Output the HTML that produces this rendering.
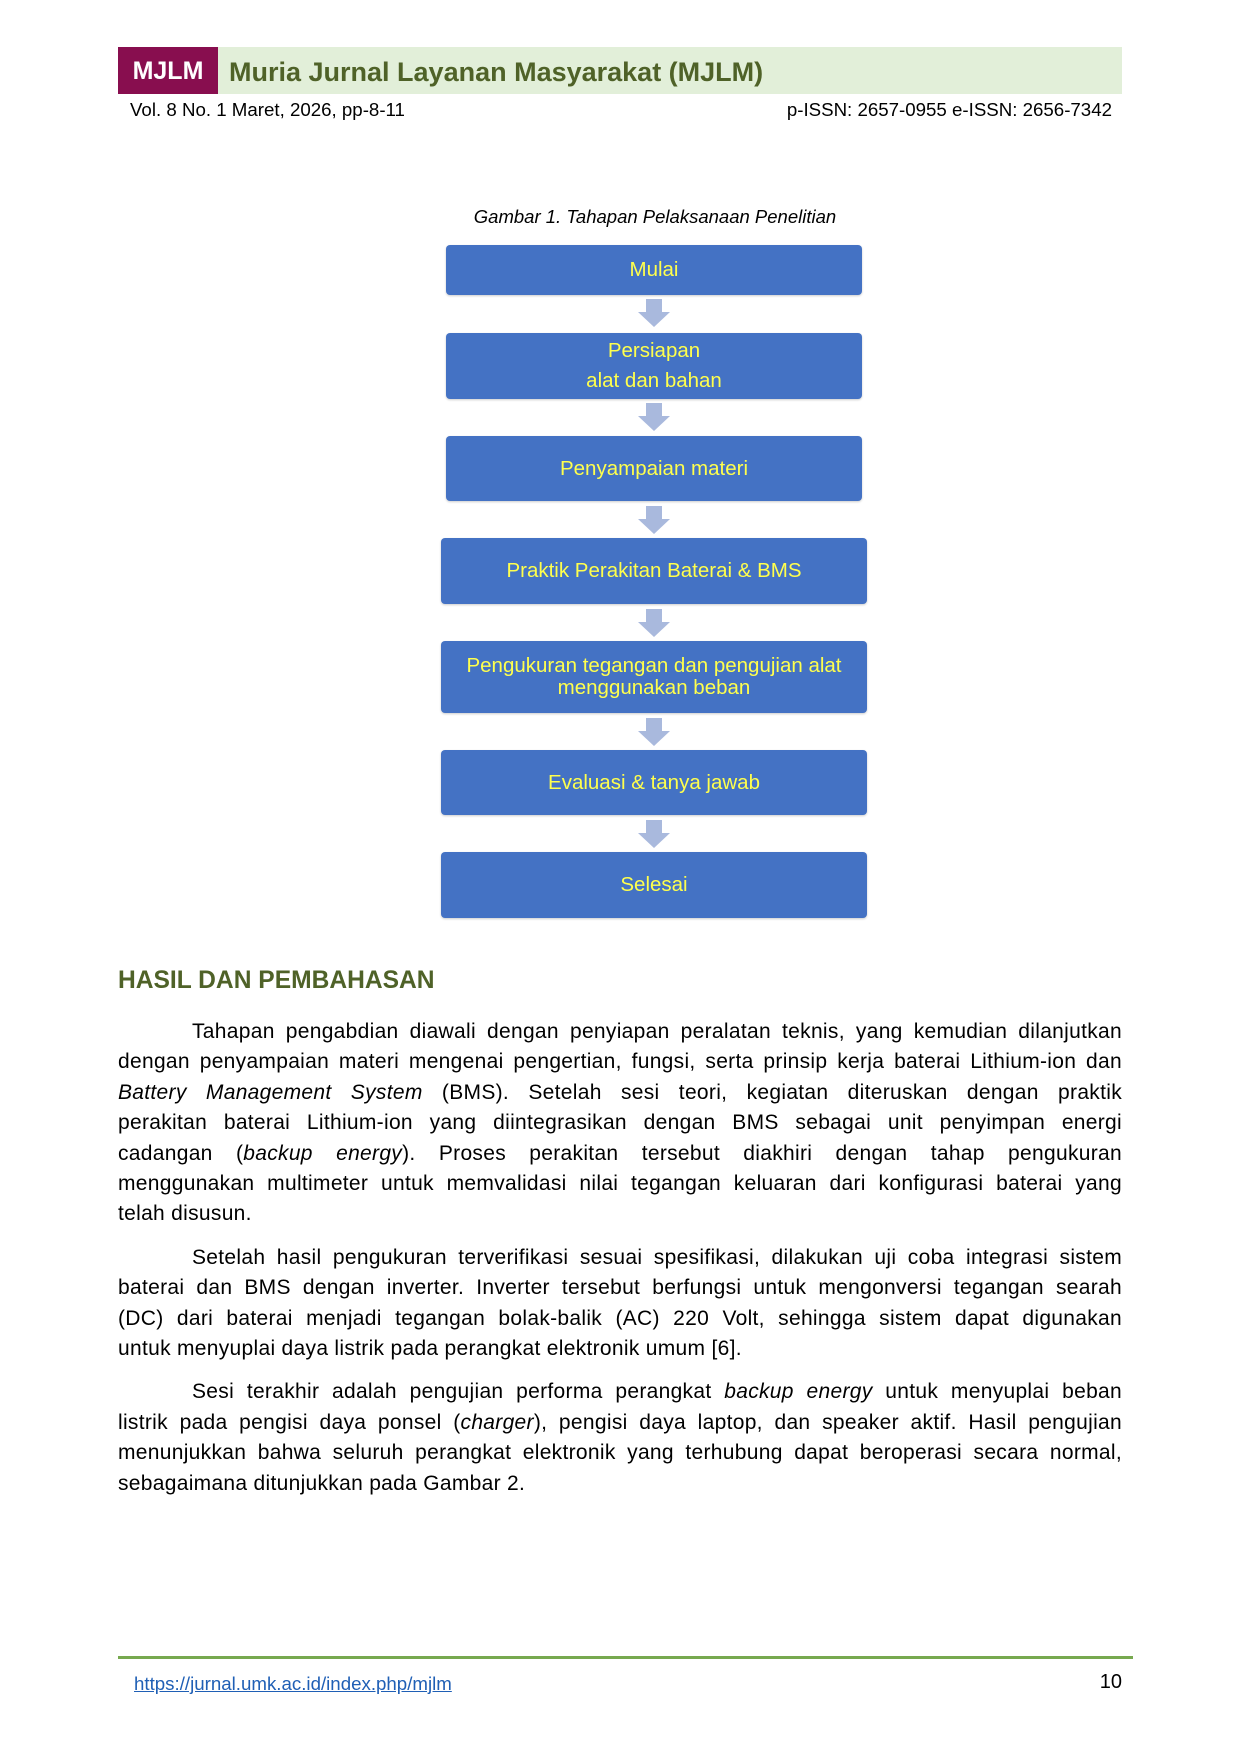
<!DOCTYPE html>
<html><head><meta charset="utf-8"><style>
*{margin:0;padding:0;box-sizing:border-box}
body{width:1240px;height:1754px;background:#fff;position:relative;font-family:"Liberation Sans",Arial,sans-serif;color:#000;overflow:hidden}
.abs{position:absolute}
.hdr{left:118px;top:47px;width:1004px;height:47px;background:#e2efd9}
.logo{left:118px;top:47px;width:100px;height:47px;background:#880e4f;color:#fff;font-weight:bold;font-size:25px;line-height:49px;text-align:center}
.title{left:229px;top:48px;line-height:49px;font-size:27px;font-weight:bold;color:#4f6228}
.sub{top:99px;font-size:18.7px;line-height:22px}
.cap{left:0;width:1310px;text-align:center;top:206px;font-size:18.5px;font-style:italic}
.box{background:#4472c4;border-radius:4px;color:#ffff4d;font-size:20.5px;display:flex;align-items:center;justify-content:center;text-align:center;line-height:22px;box-shadow:0 1px 2px rgba(0,0,0,.2)}
h2{position:absolute;left:118px;top:967px;font-size:24.6px;color:#4f6228;font-weight:bold}
.txt{position:absolute;left:118px;width:1004px;font-size:21px;line-height:30.4px;letter-spacing:0.3px}
.txt div{text-align:justify;text-align-last:justify}
.txt div.i{padding-left:74px}
.txt div.l{text-align-last:left}
.gap{margin-top:13px}
</style></head><body>
<div class="abs hdr"></div>
<div class="abs logo">MJLM</div>
<div class="abs title">Muria Jurnal Layanan Masyarakat (MJLM)</div>
<div class="abs sub" style="left:130px">Vol. 8 No. 1 Maret, 2026, pp-8-11</div>
<div class="abs sub" style="right:128px">p-ISSN: 2657-0955 e-ISSN: 2656-7342</div>
<div class="abs cap">Gambar 1. Tahapan Pelaksanaan Penelitian</div>

<div class="abs box" style="left:446px;top:245px;width:416px;height:50px">Mulai</div>
<div class="abs box" style="left:446px;top:333px;width:416px;height:66px;line-height:30px">Persiapan<br>alat dan bahan</div>
<div class="abs box" style="left:446px;top:436px;width:416px;height:65px">Penyampaian materi</div>
<div class="abs box" style="left:441px;top:538px;width:426px;height:66px">Praktik Perakitan Baterai &amp; BMS</div>
<div class="abs box" style="left:441px;top:641px;width:426px;height:72px">Pengukuran tegangan dan pengujian alat<br>menggunakan beban</div>
<div class="abs box" style="left:441px;top:750px;width:426px;height:65px">Evaluasi &amp; tanya jawab</div>
<div class="abs box" style="left:441px;top:852px;width:426px;height:66px">Selesai</div>

<svg class="abs" style="left:0;top:0" width="1240" height="1754">
<g fill="#a9b9dd">
<path d="M646 299h16v13h8l-16 15-16-15h8z"/>
<path d="M646 403h16v13h8l-16 15-16-15h8z"/>
<path d="M646 506h16v13h8l-16 15-16-15h8z"/>
<path d="M646 609h16v13h8l-16 15-16-15h8z"/>
<path d="M646 718h16v13h8l-16 15-16-15h8z"/>
<path d="M646 820h16v13h8l-16 15-16-15h8z"/>
</g>
<rect x="118" y="1656" width="1015" height="3" fill="#77a94f"/>
</svg>

<h2>HASIL DAN PEMBAHASAN</h2>
<div class="txt" style="top:1017px">
<div class="i">Tahapan pengabdian diawali dengan penyiapan peralatan teknis, yang kemudian dilanjutkan</div>
<div>dengan penyampaian materi mengenai pengertian, fungsi, serta prinsip kerja baterai Lithium-ion dan</div>
<div><i>Battery Management System</i> (BMS). Setelah sesi teori, kegiatan diteruskan dengan praktik</div>
<div>perakitan baterai Lithium-ion yang diintegrasikan dengan BMS sebagai unit penyimpan energi</div>
<div>cadangan (<i>backup energy</i>). Proses perakitan tersebut diakhiri dengan tahap pengukuran</div>
<div>menggunakan multimeter untuk memvalidasi nilai tegangan keluaran dari konfigurasi baterai yang</div>
<div class="l">telah disusun.</div>
<div class="i gap">Setelah hasil pengukuran terverifikasi sesuai spesifikasi, dilakukan uji coba integrasi sistem</div>
<div>baterai dan BMS dengan inverter. Inverter tersebut berfungsi untuk mengonversi tegangan searah</div>
<div>(DC) dari baterai menjadi tegangan bolak-balik (AC) 220 Volt, sehingga sistem dapat digunakan</div>
<div class="l">untuk menyuplai daya listrik pada perangkat elektronik umum [6].</div>
<div class="i gap">Sesi terakhir adalah pengujian performa perangkat <i>backup energy</i> untuk menyuplai beban</div>
<div>listrik pada pengisi daya ponsel (<i>charger</i>), pengisi daya laptop, dan speaker aktif. Hasil pengujian</div>
<div>menunjukkan bahwa seluruh perangkat elektronik yang terhubung dapat beroperasi secara normal,</div>
<div class="l">sebagaimana ditunjukkan pada Gambar 2.</div>
</div>

<div class="abs" style="left:134px;top:1673px;font-size:18.7px;color:#1f5fb5;text-decoration:underline">https://jurnal.umk.ac.id/index.php/mjlm</div>
<div class="abs" style="right:118px;top:1671px;font-size:20px">10</div>
</body></html>
